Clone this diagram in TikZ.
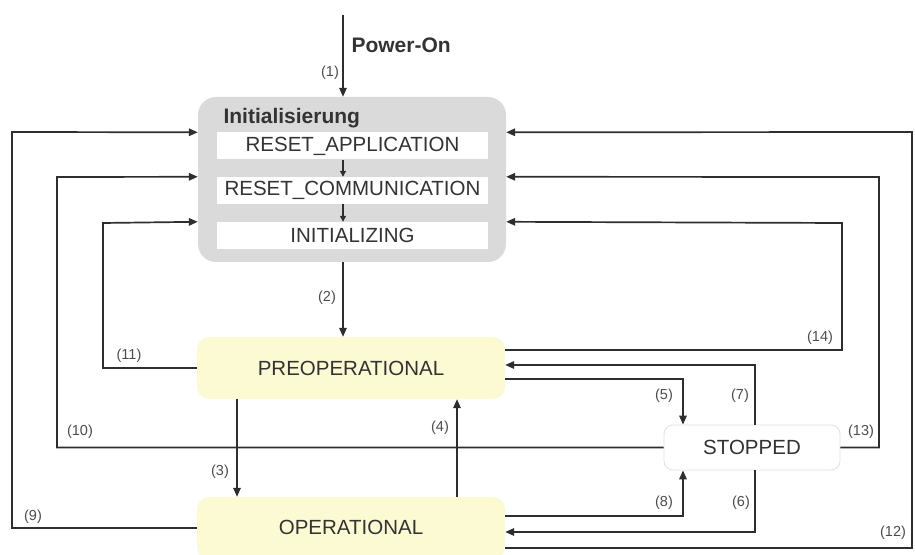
\documentclass[tikz,border=0pt]{standalone}
\usepackage{fontspec}
\setmainfont{Liberation Sans}
\usetikzlibrary{arrows.meta,positioning,calc}

\definecolor{initgray}{HTML}{DADADA}
\definecolor{stateyellow}{HTML}{FCFAD2}
\definecolor{linegray}{HTML}{2E2E2E}
\definecolor{textgray}{HTML}{333333}

\begin{document}
\begin{tikzpicture}[
  x=1pt,y=1pt,
  >={Triangle[length=9pt,width=7.5pt]},
  group/.style={draw=none, rounded corners=18pt, fill=initgray, minimum width=308pt, minimum height=165pt},
  substate/.style={draw=none, fill=white, minimum width=271pt, minimum height=27pt, font=\fontsize{20.5}{23}\selectfont, text=textgray, inner sep=0pt},
  state/.style={draw=none, rounded corners=12pt, fill=stateyellow, minimum width=308pt, minimum height=62pt, font=\fontsize{20.5}{23}\selectfont, text=textgray},
  stopbox/.style={draw=black!12, line width=0.8pt, rounded corners=9pt, fill=white, minimum width=176pt, minimum height=45pt, font=\fontsize{20.5}{23}\selectfont, text=textgray},
  title/.style={font=\fontsize{21}{24}\selectfont\bfseries, text=textgray, anchor=west},
  num/.style={font=\fontsize{14.5}{17}\selectfont, text=black!70},
  trans/.style={->, draw=linegray, line width=1.7pt},
  inner/.style={->, draw=linegray, line width=1.2pt, >={Triangle[length=6pt,width=6pt]}}
]
\useasboundingbox (0,0) rectangle (915,554);
\clip (0,0) rectangle (915,554);

% ================= States =================
\node[group] (init) at (352,374.5) {};
\node[title] (inittitle) at (220,436) {Initialisierung};
\node[substate] (app) at (352.5,408) {RESET\_APPLICATION};
\node[substate] (comm) at (352.5,363.5) {RESET\_COMMUNICATION};
\node[substate] (initz) at (352.5,318.5) {INITIALIZING};

\node[state] (preop) at (351,186) {PREOPERATIONAL};
\node[state] (oper) at (351,26) {\raisebox{1pt}{OPERATIONAL}};
\node[stopbox] (stopped) at (752,106.5) {STOPPED};

% Power-On
\coordinate (pwr) at (343,539);
\draw[trans] (pwr) -- (pwr |- init.north);
\node[title] (pwrlabel) at (348,509) {Power-On};
\node[num] (n1) at (330,481) {(1)};

% inside Initialisierung
\draw[inner] (pwr |- app.south) -- (pwr |- comm.north);
\draw[inner] (pwr |- comm.south) -- (pwr |- initz.north);

% ================= Transitions =================
\draw[trans] (pwr |- init.south) -- (pwr |- preop.north);
\node[num] (n2) at (327,256) {(2)};

\draw[trans] ([xshift=-114]preop.south) -- ([xshift=-114]oper.north);
\node[num] (n3) at (220,82) {(3)};
\draw[trans] ([xshift=106]oper.north) -- ([xshift=106]preop.south);
\node[num] (n4) at (440,126) {(4)};

\draw[trans] ([yshift=-11]preop.east) -| ([xshift=-69]stopped.north);
\node[num] (n5) at (664,158) {(5)};
\draw[trans] ([xshift=3]stopped.north) |- ([yshift=3]preop.east);
\node[num] (n7) at (740,158) {(7)};

\draw[trans] ([xshift=3]stopped.south) |- ([yshift=-4]oper.east);
\node[num] (n6) at (741,51) {(6)};
\draw[trans] ([yshift=12]oper.east) -| ([xshift=-69]stopped.south);
\node[num] (n8) at (664,51) {(8)};

% back to Initialisierung, right side
\draw[trans] ([yshift=18]preop.east) -| (842,331) -- (init.east |- initz.north);
\node[num] (n14) at (820,216) {(14)};
\draw[trans] (stopped.east) -| (879,377) -- (init.east |- comm.north);
\node[num] (n13) at (861,122) {(13)};
\draw[trans] ([yshift=-20]oper.east) -| (912,422) -- (init.east |- app.north);
\node[num] (n12) at (893,21) {(12)};

% back to Initialisierung, left side
\draw[trans] (oper.west) -| (12,422) -- (init.west |- app.north);
\node[num] (n9) at (33,37) {(9)};
\draw[trans] (stopped.west) -| (57,377) -- (init.west |- comm.north);
\node[num] (n10) at (80,122) {(10)};
\draw[trans] (preop.west) -| (103,331) -- (init.west |- initz.north);
\node[num] (n11) at (129,198) {(11)};

\end{tikzpicture}
\end{document}
